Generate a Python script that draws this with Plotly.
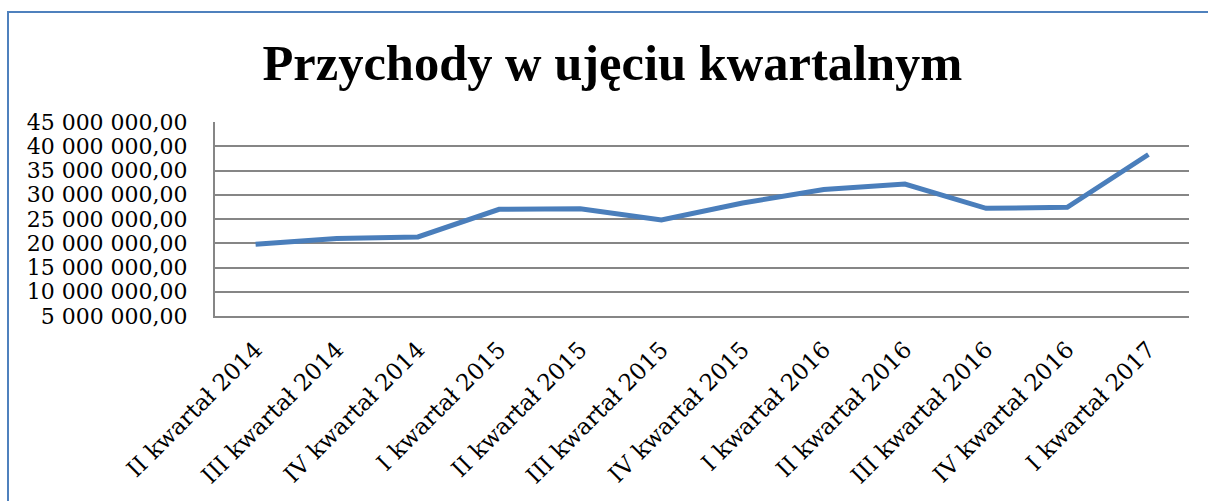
import plotly.graph_objects as go

categories = ["II kwartał 2014", "III kwartał 2014", "IV kwartał 2014",
              "I kwartał 2015", "II kwartał 2015", "III kwartał 2015",
              "IV kwartał 2015", "I kwartał 2016", "II kwartał 2016",
              "III kwartał 2016", "IV kwartał 2016", "I kwartał 2017"]
revenue = [19800000, 21000000, 21300000, 27000000, 27100000, 24800000,
           28300000, 31100000, 32200000, 27200000, 27400000, 38300000]
tick_values = [5000000, 10000000, 15000000, 20000000, 25000000,
               30000000, 35000000, 40000000, 45000000]
tick_labels = ["5 000 000,00", "10 000 000,00", "15 000 000,00", "20 000 000,00",
               "25 000 000,00", "30 000 000,00", "35 000 000,00", "40 000 000,00",
               "45 000 000,00"]
title_text = "Przychody w ujęciu kwartalnym"

W, H = 1208, 501
L, R, T, B = 215, 1189, 122, 316

fig = go.Figure()
fig.add_trace(go.Scatter(
    x=categories, y=revenue, mode="lines",
    line=dict(color="#4A7EBB", width=5),
    hoverinfo="skip", showlegend=False,
))

title_font = "Liberation Serif, DejaVu Serif, serif"
tick_font = "DejaVu Serif, Liberation Serif, serif"

def px_x(px):
    return (px - L) / (R - L)

def px_y(py):
    return (B - py) / (B - T)

fig.update_layout(
    width=W, height=H,
    margin=dict(l=L, r=W - R, t=T, b=H - B),
    paper_bgcolor="white", plot_bgcolor="white",
    font=dict(family=tick_font, color="black", size=22),
    title=dict(text="<b>" + title_text + "</b>", x=0.507, xanchor="center",
               y=1 - 62 / H, yanchor="middle", yref="container",
               font=dict(family=title_font, size=50.5, color="black")),
    xaxis=dict(range=[-0.5, len(categories) - 0.5], tickangle=-45,
               showgrid=False, showline=True, linecolor="#868686", linewidth=2,
               ticks="", ticklabelstandoff=9,
               tickfont=dict(family=tick_font, size=23, color="black")),
    yaxis=dict(range=[5000000, 45000000], tickvals=tick_values, ticktext=tick_labels,
               showgrid=True, gridcolor="#868686", gridwidth=2,
               showline=True, linecolor="#868686", linewidth=2,
               zeroline=False, ticks="", ticklabelstandoff=21,
               tickfont=dict(family=tick_font, size=22, color="black")),
    shapes=[dict(type="rect", xref="paper", yref="paper",
                 x0=px_x(8), x1=px_x(1240), y0=px_y(12), y1=px_y(560),
                 line=dict(color="#4F81BD", width=2), fillcolor="rgba(0,0,0,0)",
                 layer="below")],
)

fig.write_html("out.html", config={"displayModeBar": False, "staticPlot": True},
               post_script="document.body.style.margin='0px';document.body.style.overflow='hidden';")
